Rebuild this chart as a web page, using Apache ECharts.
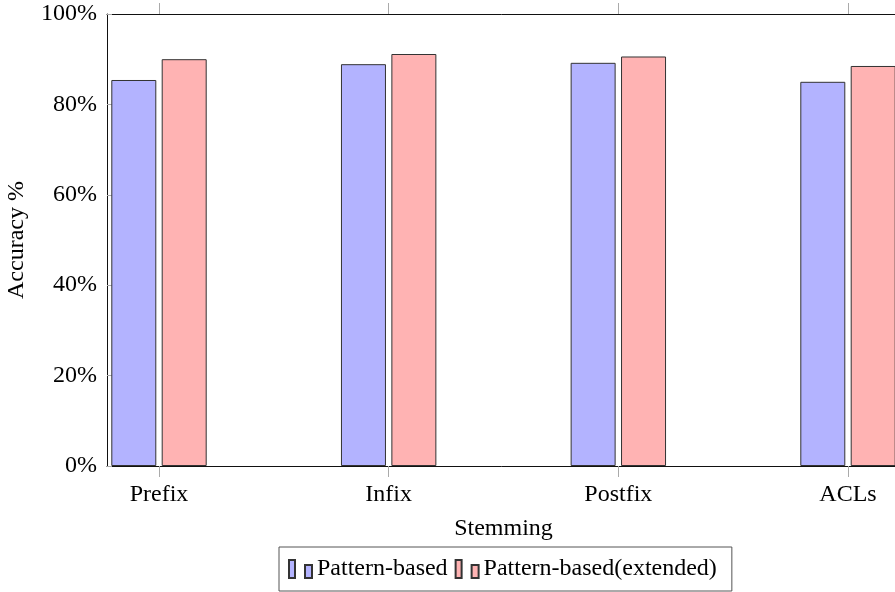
<!DOCTYPE html>
<html>
<head>
<meta charset="utf-8">
<script src="https://cdn.jsdelivr.net/npm/echarts@6/dist/echarts.min.js"></script>
<style>html,body{margin:0;padding:0;background:#fff}#c{width:895px;height:592px}</style>
</head>
<body>
<div id="c"></div>
<script>
const categories = ['Prefix', 'Infix', 'Postfix', 'ACLs'];
const patternBased = [85.4, 88.9, 89.2, 85.0];
const patternExtended = [90.0, 91.15, 90.6, 88.5];
const seriesNames = ['Pattern-based', 'Pattern-based(extended)'];
const yTicks = [0, 20, 40, 60, 80, 100];

const idx = categories.map((c, i) => i);
const FONT = 'Liberation Serif';
const FS = 24;
const chart = echarts.init(document.getElementById('c'));
const icon = 'path://M0,0 L6,0 L6,18 L0,18 Z M16,5 L23,5 L23,18 L16,18 Z';
const xCommon = {
  type: 'value', min: -0.2264, max: 3.2264,
  splitLine: { show: false },
  axisLine: { show: true, onZero: false, lineStyle: { color: '#111', width: 1 } },
  axisTick: { show: true, inside: false, length: 11, customValues: idx, lineStyle: { color: '#aaa', width: 1 } }
};
chart.setOption({
  animation: false,
  textStyle: { fontFamily: FONT },
  grid: { left: 107, top: 14, right: -5, bottom: 126, containLabel: false, outerBoundsMode: 'none' },
  legend: {
    data: seriesNames.map(n => ({ name: n, icon: icon })),
    left: 279, top: 547,
    orient: 'horizontal',
    itemWidth: 23, itemHeight: 18, itemGap: 7,
    padding: [10, 15, 10, 9],
    borderColor: '#555', borderWidth: 1,
    textStyle: { fontFamily: FONT, fontSize: FS, color: '#000', padding: [0, 0, 0, 0] }
  },
  xAxis: [
    Object.assign({}, xCommon, {
      position: 'bottom',
      name: 'Stemming', nameLocation: 'middle', nameGap: 51,
      nameTextStyle: { fontFamily: FONT, fontSize: FS, color: '#000' },
      axisLabel: { show: true, customValues: idx, margin: 17, fontFamily: FONT, fontSize: FS, color: '#000',
        formatter: v => categories[Math.round(v)] }
    }),
    Object.assign({}, xCommon, {
      position: 'top',
      axisLabel: { show: false }
    })
  ],
  yAxis: {
    type: 'value', min: 0, max: 100, interval: 20,
    name: 'Accuracy %', nameLocation: 'middle', nameGap: 78, nameRotate: 90,
    nameTextStyle: { fontFamily: FONT, fontSize: FS, color: '#000' },
    splitLine: { show: false },
    axisLine: { show: true, onZero: false, lineStyle: { color: '#111', width: 1 } },
    axisTick: { show: true, inside: true, length: 5, lineStyle: { color: '#aaa' } },
    axisLabel: { margin: 10, fontFamily: FONT, fontSize: FS, color: '#000', formatter: '{value}%' }
  },
  series: [
    {
      name: seriesNames[0], type: 'bar', xAxisIndex: 0,
      barWidth: 45, barGap: '12%',
      itemStyle: { color: '#b3b3ff', borderColor: '#333', borderWidth: 1 },
      data: idx.map(i => [i, patternBased[i]])
    },
    {
      name: seriesNames[1], type: 'bar', xAxisIndex: 0,
      barWidth: 45, barGap: '12%',
      itemStyle: { color: '#ffb3b3', borderColor: '#333', borderWidth: 1 },
      data: idx.map(i => [i, patternExtended[i]])
    }
  ]
});
</script>
</body>
</html>
